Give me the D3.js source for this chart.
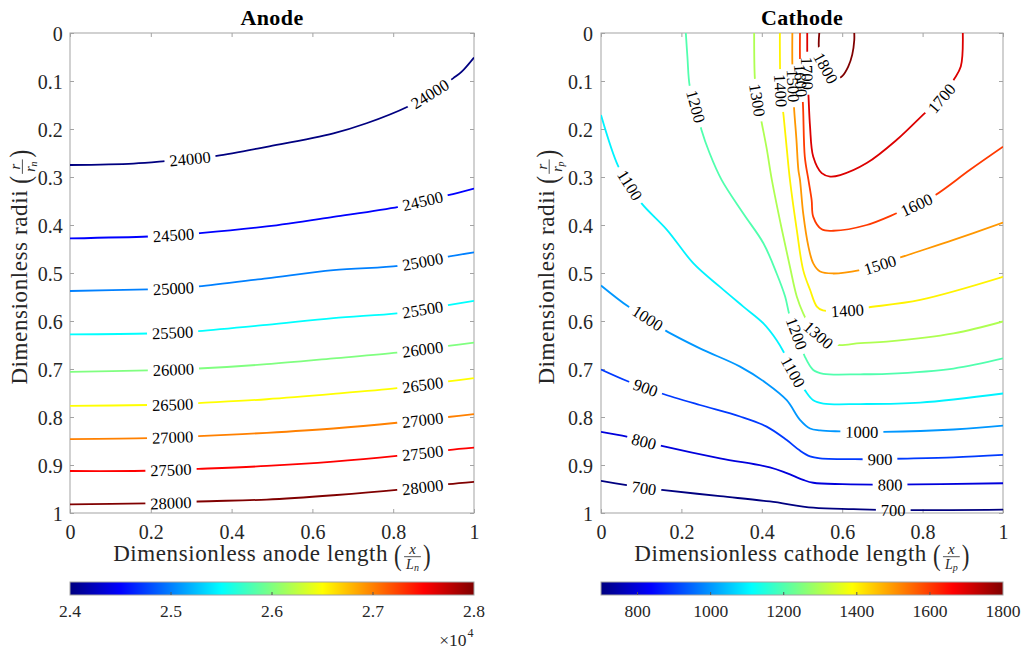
<!DOCTYPE html>
<html><head><meta charset="utf-8">
<script src="https://cdn.jsdelivr.net/npm/d3@7"></script>
<style>
body{margin:0;background:#fff;}
</style></head><body>
<svg id="chart" width="1026" height="655"></svg>
<script>
// ---------------- data ----------------
const xTicks = [0, 0.2, 0.4, 0.6, 0.8, 1];
const xTickLabels = ["0", "0.2", "0.4", "0.6", "0.8", "1"];
const yTicks = [0, 0.1, 0.2, 0.3, 0.4, 0.5, 0.6, 0.7, 0.8, 0.9, 1];
const yTickLabels = ["0", "0.1", "0.2", "0.3", "0.4", "0.5", "0.6", "0.7", "0.8", "0.9", "1"];

const anodeRange = [24000, 28000];
const anodeCbTicks = [24000, 25000, 26000, 27000, 28000];
const anodeCbLabels = ["2.4", "2.5", "2.6", "2.7", "2.8"];
const anodeLevels = [24000, 24500, 25000, 25500, 26000, 26500, 27000, 27500, 28000];
// each contour: [x/Ln, r/rn] points
const anodeLines = [
  [[0,0.275],[0.157,0.272],[0.235,0.267],[0.297,0.262],[0.363,0.256],[0.487,0.237],[0.652,0.209],[0.734,0.188],[0.837,0.153],[0.891,0.127],[0.949,0.094],[0.969,0.081],[1,0.051]],
  [[0,0.428],[0.194,0.424],[0.256,0.421],[0.322,0.417],[0.487,0.403],[0.652,0.383],[0.813,0.362],[0.873,0.350],[0.936,0.338],[1,0.324]],
  [[0,0.5375],[0.194,0.534],[0.256,0.532],[0.318,0.528],[0.487,0.511],[0.652,0.494],[0.813,0.485],[0.873,0.476],[0.936,0.466],[1,0.457]],
  [[0,0.628],[0.194,0.626],[0.254,0.624],[0.318,0.621],[0.487,0.608],[0.652,0.594],[0.809,0.584],[0.873,0.576],[0.936,0.567],[1,0.558]],
  [[0,0.706],[0.194,0.703],[0.256,0.701],[0.318,0.699],[0.487,0.690],[0.652,0.678],[0.809,0.666],[0.873,0.659],[0.936,0.652],[1,0.645]],
  [[0,0.777],[0.194,0.775],[0.254,0.774],[0.318,0.771],[0.487,0.763],[0.652,0.752],[0.809,0.740],[0.873,0.733],[0.936,0.726],[1,0.719]],
  [[0,0.846],[0.194,0.844],[0.254,0.842],[0.318,0.840],[0.487,0.833],[0.652,0.824],[0.809,0.812],[0.873,0.806],[0.936,0.800],[1,0.794]],
  [[0,0.9125],[0.19,0.912],[0.25,0.910],[0.318,0.908],[0.487,0.902],[0.652,0.893],[0.809,0.881],[0.873,0.875],[0.936,0.869],[1,0.864]],
  [[0,0.982],[0.19,0.980],[0.25,0.979],[0.318,0.976],[0.487,0.972],[0.652,0.963],[0.809,0.952],[0.873,0.946],[0.936,0.940],[1,0.935]]
];
const anodeLabelAt = [
  [[0.297,0.262],[0.891,0.127]],
  [[0.256,0.421],[0.873,0.350]],
  [[0.256,0.532],[0.873,0.476]],
  [[0.254,0.624],[0.873,0.576]],
  [[0.256,0.701],[0.873,0.659]],
  [[0.254,0.774],[0.873,0.733]],
  [[0.254,0.842],[0.873,0.806]],
  [[0.25,0.910],[0.873,0.875]],
  [[0.25,0.979],[0.873,0.946]]
];

const cathodeRange = [700, 1800];
const cathodeCbTicks = [800, 1000, 1200, 1400, 1600, 1800];
const cathodeCbLabels = ["800", "1000", "1200", "1400", "1600", "1800"];
const cathodeLevels = [700, 800, 900, 1000, 1100, 1200, 1300, 1400, 1500, 1600, 1700, 1800];
const cathodeLines = [
  [[0,0.933],[0.064,0.942],[0.107,0.948],[0.151,0.952],[0.296,0.965],[0.420,0.976],[0.528,0.989],[0.628,0.992],[0.727,0.994],[1,0.993]],
  [[0,0.831],[0.064,0.841],[0.107,0.851],[0.151,0.860],[0.296,0.886],[0.420,0.905],[0.462,0.917],[0.503,0.931],[0.528,0.937],[0.600,0.940],[0.719,0.941],[1,0.938]],
  [[0,0.701],[0.068,0.726],[0.111,0.739],[0.151,0.751],[0.246,0.775],[0.346,0.799],[0.412,0.820],[0.462,0.848],[0.495,0.870],[0.520,0.882],[0.545,0.886],[0.652,0.888],[0.694,0.888],[0.731,0.887],[0.877,0.884],[1,0.879]],
  [[0,0.526],[0.068,0.570],[0.116,0.594],[0.159,0.619],[0.246,0.657],[0.346,0.695],[0.412,0.730],[0.462,0.765],[0.495,0.806],[0.520,0.824],[0.545,0.828],[0.595,0.830],[0.649,0.831],[0.702,0.831],[0.877,0.826],[1,0.818]],
  [[0,0.171],[0.043,0.278],[0.072,0.317],[0.101,0.355],[0.164,0.410],[0.230,0.480],[0.296,0.529],[0.354,0.570],[0.404,0.605],[0.437,0.640],[0.454,0.664],[0.478,0.706],[0.507,0.744],[0.528,0.765],[0.553,0.772],[0.645,0.773],[0.794,0.770],[1,0.751]],
  [[0.211,0],[0.215,0.05],[0.221,0.112],[0.236,0.153],[0.250,0.202],[0.270,0.25],[0.300,0.306],[0.354,0.376],[0.404,0.438],[0.437,0.501],[0.458,0.549],[0.470,0.591],[0.487,0.626],[0.507,0.674],[0.528,0.702],[0.553,0.710],[0.645,0.711],[0.711,0.710],[0.877,0.699],[1,0.678]],
  [[0.381,0],[0.383,0.098],[0.389,0.140],[0.400,0.188],[0.412,0.24],[0.425,0.306],[0.450,0.410],[0.470,0.487],[0.487,0.549],[0.503,0.584],[0.520,0.610],[0.541,0.629],[0.565,0.643],[0.590,0.650],[0.645,0.646],[0.711,0.643],[0.877,0.626],[1,0.601]],
  [[0.445,0],[0.445,0.035],[0.447,0.120],[0.454,0.171],[0.462,0.24],[0.470,0.306],[0.487,0.410],[0.503,0.494],[0.520,0.535],[0.537,0.570],[0.552,0.578],[0.613,0.578],[0.661,0.572],[0.794,0.556],[1,0.508]],
  [[0.476,0],[0.476,0.067],[0.478,0.110],[0.480,0.153],[0.486,0.22],[0.491,0.285],[0.495,0.306],[0.503,0.376],[0.516,0.445],[0.528,0.480],[0.545,0.497],[0.578,0.501],[0.644,0.494],[0.694,0.483],[0.740,0.469],[0.877,0.431],[1,0.395]],
  [[0.495,0],[0.495,0.055],[0.497,0.099],[0.502,0.143],[0.507,0.258],[0.516,0.306],[0.524,0.348],[0.528,0.383],[0.549,0.409],[0.578,0.412],[0.661,0.400],[0.740,0.374],[0.785,0.358],[0.831,0.338],[0.918,0.285],[1,0.237]],
  [[0.513,0],[0.513,0.039],[0.513,0.084],[0.516,0.129],[0.520,0.195],[0.528,0.258],[0.549,0.292],[0.570,0.299],[0.595,0.296],[0.661,0.271],[0.735,0.223],[0.814,0.160],[0.847,0.136],[0.877,0.098],[0.895,0.070],[0.900,0]],
  [[0.543,0],[0.543,0.039],[0.559,0.073],[0.582,0.098],[0.600,0.090],[0.615,0.070],[0.625,0.045],[0.630,0.015],[0.630,0]]
];
const cathodeLabelAt = [
  [[0.107,0.948],[0.727,0.994]],
  [[0.107,0.851],[0.719,0.941]],
  [[0.111,0.739],[0.694,0.888]],
  [[0.116,0.594],[0.649,0.831]],
  [[0.072,0.317],[0.478,0.706]],
  [[0.236,0.153],[0.487,0.626]],
  [[0.389,0.140],[0.541,0.629]],
  [[0.447,0.120],[0.613,0.578]],
  [[0.478,0.110],[0.694,0.483]],
  [[0.497,0.099],[0.785,0.358]],
  [[0.513,0.084],[0.847,0.136]],
  [[0.559,0.073]]
];

// ---------------- drawing ----------------
const FONT = "Liberation Serif";
const svg = d3.select("#chart");
const defs = svg.append("defs");
const clamp = v => Math.max(0, Math.min(1, v));
function jet(t) {
  return d3.rgb(255 * clamp(Math.min(4*t - 1.5, -4*t + 4.5)),
                255 * clamp(Math.min(4*t - 0.5, -4*t + 3.5)),
                255 * clamp(Math.min(4*t + 0.5, -4*t + 2.5))).formatHex();
}
const AX = "#a3a3a3", TXT = "#262626";
const yTop = 33, yBot = 513;

const panels = [
  {id:"a", title:"Anode", x0:70, x1:474, range:anodeRange, levels:anodeLevels, lines:anodeLines, labels:anodeLabelAt,
   cbTicks:anodeCbTicks, cbLabels:anodeCbLabels, xlab:"Dimensionless anode length", sub:"n", ylabX:26.7, tickPad:7.3, exp:true},
  {id:"c", title:"Cathode", x0:601, x1:1003, range:cathodeRange, levels:cathodeLevels, lines:cathodeLines, labels:cathodeLabelAt,
   cbTicks:cathodeCbTicks, cbLabels:cathodeCbLabels, xlab:"Dimensionless cathode length", sub:"p", ylabX:553.5, tickPad:8, exp:false}
];

function T(sel) { return sel.append("text").style("font-family", FONT); }

function labelAngle(pts, p, x, y) {
  let bi = 0, bd = Infinity;
  pts.forEach((q, i) => { const d = Math.hypot(x(q[0]) - x(p[0]), y(q[1]) - y(p[1])); if (d < bd) { bd = d; bi = i; } });
  const a = pts[Math.max(0, bi - 1)], b = pts[Math.min(pts.length - 1, bi + 1)];
  let ang = Math.atan2(y(b[1]) - y(a[1]), x(b[0]) - x(a[0])) * 180 / Math.PI;
  if (ang > 90) ang -= 180;
  if (ang <= -90) ang += 180;
  return ang;
}

function axisLabel(parent, main, num, den, sub) {
  const g = parent.append("g").attr("fill", TXT);
  const t = T(g).attr("font-size", 23).attr("letter-spacing", "0.6px").text(main);
  let xx = t.node().getComputedTextLength() + 6;
  T(g).attr("font-size", 23).attr("transform", `translate(${xx},3.5) scale(1,1.3)`).text("(");
  xx += 10;
  const dn = T(g).attr("font-size", 14).attr("font-style", "italic").attr("y", 8.3);
  dn.append("tspan").text(den);
  dn.append("tspan").attr("font-size", 10).attr("dy", 2).text(sub);
  const dw = dn.node().getComputedTextLength();
  const fw = Math.max(dw + 4, 12);
  dn.attr("x", xx + (fw - dw) / 2);
  T(g).attr("font-size", 15).attr("font-style", "italic").attr("text-anchor", "middle")
    .attr("x", xx + fw / 2).attr("y", -7).text(num);
  g.append("line").attr("x1", xx).attr("x2", xx + fw).attr("y1", -4.3).attr("y2", -4.3)
    .attr("stroke", TXT).attr("stroke-width", 0.8);
  xx += fw + 2;
  T(g).attr("font-size", 23).attr("transform", `translate(${xx},3.5) scale(1,1.3)`).text(")");
  xx += 8;
  g.attr("transform", `translate(${-xx / 2},0)`);
}

panels.forEach(P => {
  const x = d3.scaleLinear().domain([0, 1]).range([P.x0, P.x1]);
  const y = d3.scaleLinear().domain([0, 1]).range([yTop, yBot]);
  const cscale = d3.scaleLinear().domain(P.range).range([0, 1]);
  const g = svg.append("g");

  defs.append("clipPath").attr("id", "clip-" + P.id).append("rect")
    .attr("x", P.x0).attr("y", yTop).attr("width", P.x1 - P.x0).attr("height", yBot - yTop);

  // title
  T(g).attr("x", (P.x0 + P.x1) / 2).attr("y", 25).attr("text-anchor", "middle")
    .attr("font-size", 22).attr("font-weight", "bold").attr("letter-spacing", "0.4px").attr("fill", "#000").text(P.title);

  // axes
  const styleAxis = sel => {
    sel.select(".domain").remove();
    sel.selectAll(".tick line").attr("stroke", AX);
    sel.attr("font-size", 20);
    sel.selectAll(".tick text").attr("fill", TXT).style("font-family", FONT);
  };
  g.append("g").attr("transform", `translate(0,${yBot})`)
    .call(d3.axisBottom(x).tickValues(xTicks).tickFormat((d, i) => xTickLabels[i]).tickSize(-4).tickPadding(12)).call(styleAxis);
  g.append("g").attr("transform", `translate(0,${yTop})`)
    .call(d3.axisTop(x).tickValues(xTicks).tickFormat("").tickSize(-4)).call(styleAxis);
  g.append("g").attr("transform", `translate(${P.x0},0)`)
    .call(d3.axisLeft(y).tickValues(yTicks).tickFormat((d, i) => yTickLabels[i]).tickSize(-4).tickPadding(P.tickPad)).call(styleAxis)
    .selectAll(".tick text").attr("dy", "0.36em");
  g.append("g").attr("transform", `translate(${P.x1},0)`)
    .call(d3.axisRight(y).tickValues(yTicks).tickFormat("").tickSize(-4)).call(styleAxis);
  g.append("rect").attr("x", P.x0).attr("y", yTop).attr("width", P.x1 - P.x0).attr("height", yBot - yTop)
    .attr("fill", "none").attr("stroke", AX).attr("stroke-width", 1);

  // contours with inline labels
  const line = d3.line().x(d => x(d[0])).y(d => y(d[1])).curve(d3.curveCatmullRom.alpha(0.5));
  const lg = g.append("g").attr("clip-path", `url(#clip-${P.id})`);
  const tg = g.append("g");
  P.levels.forEach((lev, k) => {
    const pts = P.lines[k];
    const mask = defs.append("mask").attr("id", `m-${P.id}-${k}`).attr("maskUnits", "userSpaceOnUse")
      .attr("x", 0).attr("y", 0).attr("width", 1026).attr("height", 655);
    mask.append("rect").attr("x", 0).attr("y", 0).attr("width", 1026).attr("height", 655).attr("fill", "#fff");
    P.labels[k].forEach(p => {
      const ang = labelAngle(pts, p, x, y);
      const t = T(tg)
        .attr("transform", `translate(${x(p[0])},${y(p[1])}) rotate(${ang})`)
        .attr("text-anchor", "middle").attr("dy", "0.35em").attr("font-size", 16.5).attr("fill", "#000")
        .text(String(lev));
      const w = t.node().getComputedTextLength() + 10;
      mask.append("rect").attr("x", -w / 2).attr("y", -8).attr("width", w).attr("height", 16).attr("fill", "#000")
        .attr("transform", `translate(${x(p[0])},${y(p[1])}) rotate(${ang})`);
    });
    lg.append("path").attr("d", line(pts)).attr("fill", "none")
      .attr("stroke", jet(cscale(lev))).attr("stroke-width", 1.8)
      .attr("mask", `url(#m-${P.id}-${k})`);
  });

  // axis labels
  axisLabel(g.append("g").attr("transform", `translate(${(P.x0 + P.x1) / 2},561)`), P.xlab, "x", "L", P.sub);
  axisLabel(g.append("g").attr("transform", `translate(${P.ylabX},267) rotate(-90)`), "Dimensionless radii", "r", "r", P.sub);

  // colorbar
  const cx = d3.scaleLinear().domain(P.range).range([P.x0, P.x1]);
  const grad = defs.append("linearGradient").attr("id", "jet-" + P.id).attr("x1", "0").attr("x2", "1").attr("y1", "0").attr("y2", "0");
  [0, 0.125, 0.375, 0.625, 0.875, 1].forEach(s => grad.append("stop").attr("offset", s).attr("stop-color", jet(s)));
  const cbY = 582, cbH = 13;
  g.append("rect").attr("x", P.x0).attr("y", cbY).attr("width", P.x1 - P.x0).attr("height", cbH)
    .attr("fill", `url(#jet-${P.id})`).attr("stroke", AX).attr("stroke-width", 1);
  P.cbTicks.forEach((v, i) => {
    if (v > P.range[0] && v < P.range[1]) {
      g.append("line").attr("x1", cx(v)).attr("x2", cx(v)).attr("y1", cbY + cbH).attr("y2", cbY + cbH - 3)
        .attr("stroke", "#555").attr("stroke-width", 1);
    }
    T(g).attr("x", cx(v)).attr("y", 617).attr("text-anchor", "middle")
      .attr("font-size", 17.5).attr("fill", TXT).text(P.cbLabels[i]);
  });
  if (P.exp) {
    T(g).attr("x", 466.5).attr("y", 646).attr("text-anchor", "end").attr("font-size", 17.5).attr("fill", TXT).text("×10");
    T(g).attr("x", 467.5).attr("y", 637).attr("font-size", 12).attr("fill", TXT).text("4");
  }
});
</script>
</body></html>
